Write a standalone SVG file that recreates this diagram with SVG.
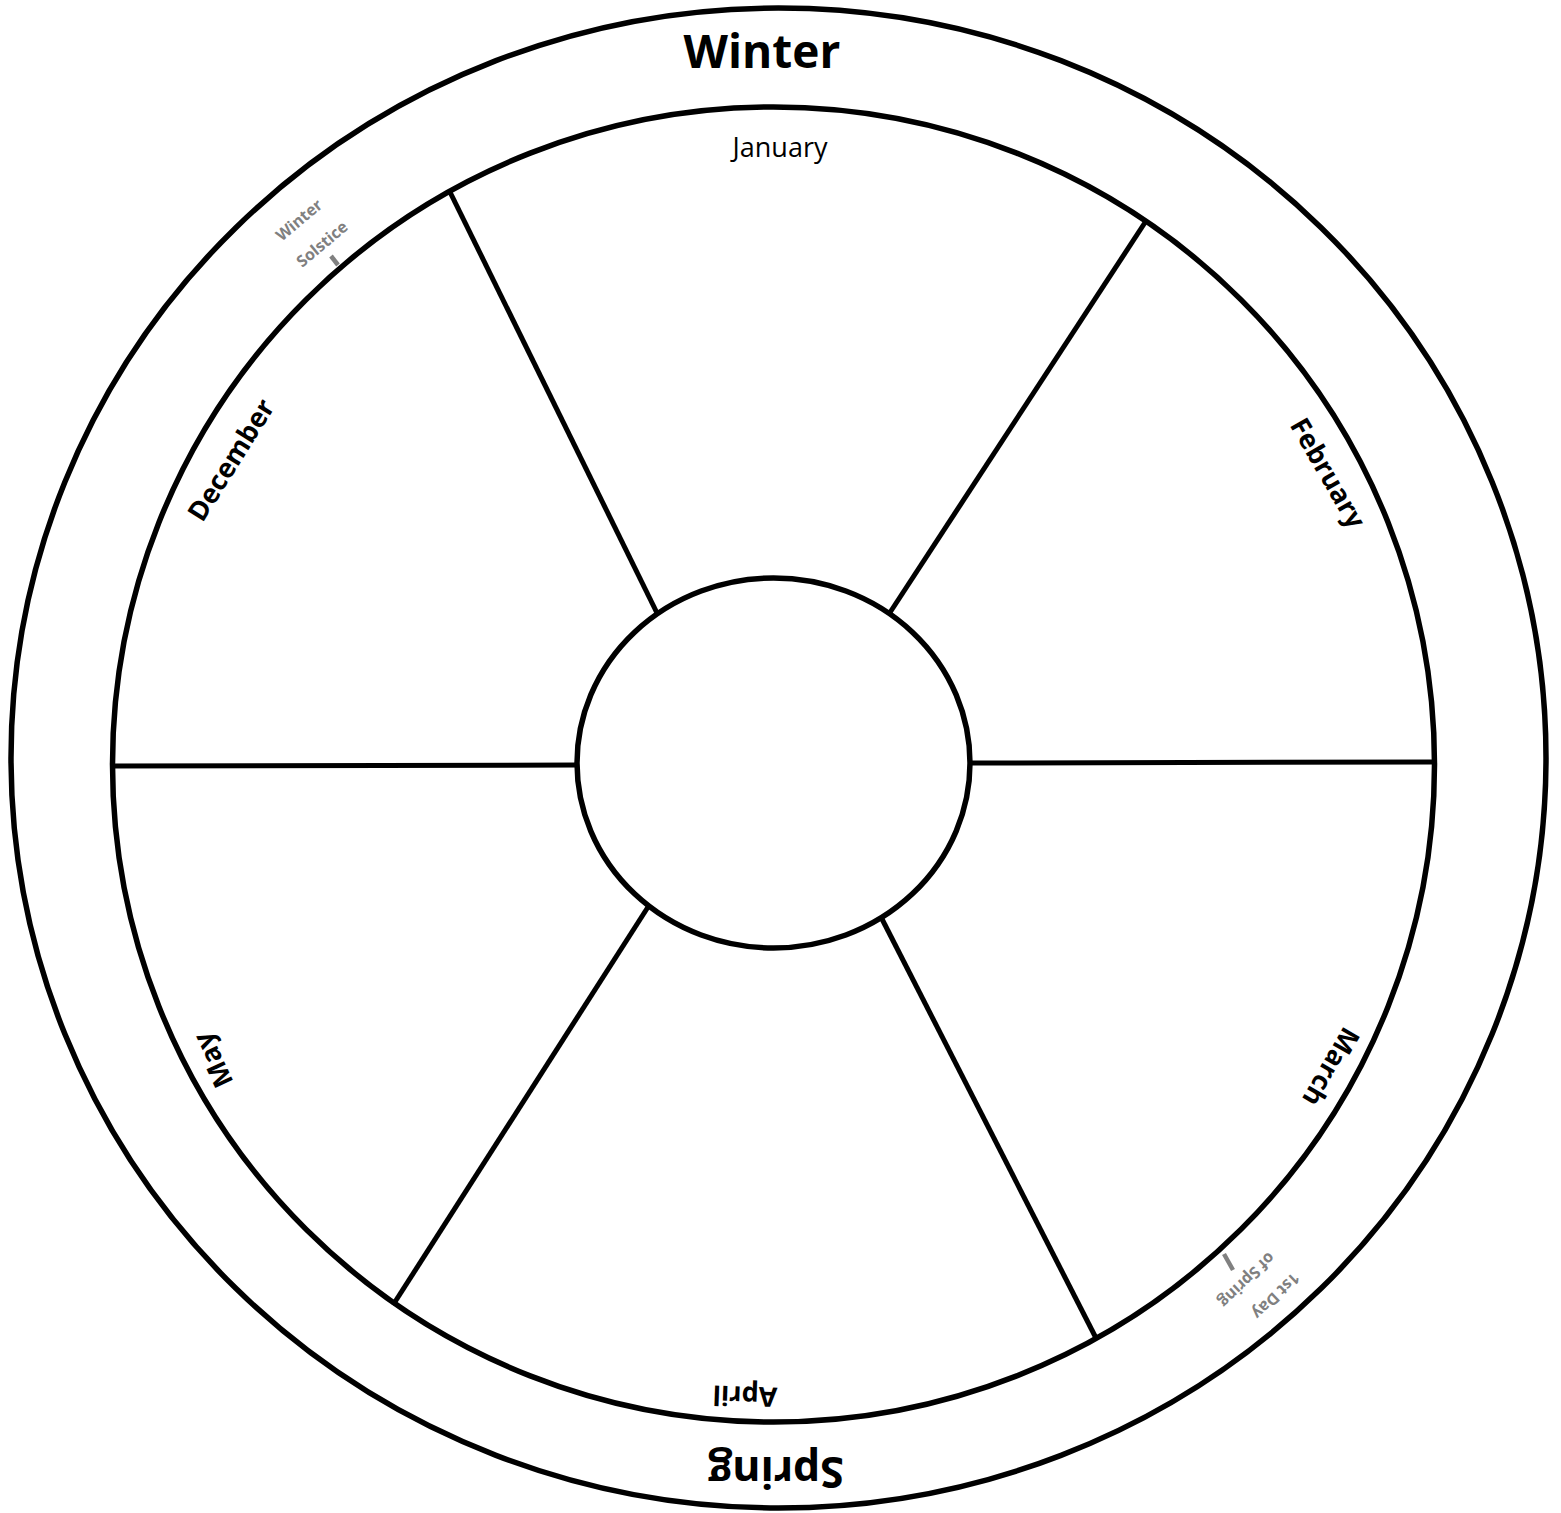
<svg xmlns="http://www.w3.org/2000/svg" width="1561" height="1513" viewBox="0 0 1561 1513">
<style>
.ring{fill:none;stroke:#000;stroke-width:5.5}
.spoke{stroke:#000;stroke-width:5;stroke-linecap:butt}
.tick{stroke:#808080;stroke-width:4.5}
.season{font-family:"Open Sans","Noto Sans","Liberation Sans",sans-serif;font-weight:bold;fill:#000;text-anchor:middle}
.month{font-family:"Open Sans","Noto Sans","Liberation Sans",sans-serif;font-weight:bold;font-size:27px;fill:#000;text-anchor:middle}
.note{font-family:"Open Sans","Noto Sans","Liberation Sans",sans-serif;font-weight:bold;font-size:16px;fill:#808080;text-anchor:middle}
</style>
<rect width="1561" height="1513" fill="#fff"/>
<g id="outer-ring"><ellipse class="ring" cx="778.5" cy="758" rx="767.5" ry="750"/></g>
<g id="inner-ring"><ellipse class="ring" cx="773.5" cy="764.5" rx="661" ry="657.5"/></g>
<g id="hub"><ellipse class="ring" cx="773.5" cy="763" rx="196.5" ry="185"/></g>
<g id="connectors">
<line class="spoke" x1="449" y1="190" x2="657" y2="613"/>
<line class="spoke" x1="1146" y1="221" x2="889" y2="614"/>
<line class="spoke" x1="113" y1="766" x2="578" y2="765"/>
<line class="spoke" x1="970" y1="763" x2="1435" y2="762"/>
<line class="spoke" x1="648" y1="907" x2="393" y2="1305"/>
<line class="spoke" x1="882" y1="919" x2="1097" y2="1340"/>
<line class="tick" x1="338" y1="265" x2="331" y2="256"/>
<line class="tick" x1="1224" y1="1254" x2="1233" y2="1270"/>
</g>
<g id="season-winter"><text class="season" x="762" y="68" font-size="46">Winter</text></g>
<g id="season-spring"><text class="season" font-size="43" transform="translate(776,1457) rotate(180)">Spring</text></g>
<g id="month-january"><text class="month" x="780" y="157" style="font-weight:normal">January</text></g>
<g id="month-february"><text class="month" dy="0.35em" transform="translate(1328,473) rotate(60)">February</text></g>
<g id="month-march"><text class="month" dy="0.35em" transform="translate(1331,1067) rotate(120)">March</text></g>
<g id="month-april"><text class="month" dy="0.35em" transform="translate(745,1396) rotate(182)">April</text></g>
<g id="month-may"><text class="month" dy="0.35em" transform="translate(213,1060) rotate(-115)">May</text></g>
<g id="month-december"><text class="month" dy="0.35em" transform="translate(231,460) rotate(-58)">December</text></g>
<g id="winter-solstice">
<text class="note" dy="0.35em" transform="translate(299,220) rotate(-40)">Winter</text>
<text class="note" dy="0.35em" transform="translate(322,244) rotate(-40)">Solstice</text>
</g>
<g id="first-day-spring">
<text class="note" dy="0.35em" transform="translate(1276,1296) rotate(136)">1st Day</text>
<text class="note" dy="0.35em" transform="translate(1247,1280) rotate(136)">of Spring</text>
</g>
</svg>
